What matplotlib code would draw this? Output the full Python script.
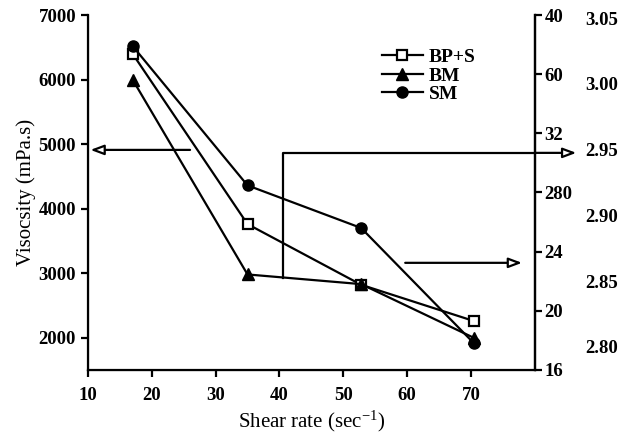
import matplotlib
matplotlib.use("Agg")
import matplotlib.pyplot as plt

plt.rcParams['font.family'] = ['Liberation Serif', 'DejaVu Serif']
plt.rcParams['mathtext.fontset'] = 'custom'
plt.rcParams['mathtext.rm'] = 'Liberation Serif'
plt.rcParams['mathtext.it'] = 'Liberation Serif:italic'

# data
shear = [17, 35, 52.8, 70.4]
bps = [6400, 3760, 2820, 2260]
bm = [6000, 2980, 2830, 2000]
sm = [6520, 4360, 3700, 1920]

x_ticks = [10, 20, 30, 40, 50, 60, 70]
left_ticks = [2000, 3000, 4000, 5000, 6000, 7000]
mid_ticks = [16, 20, 24, 28, 32, 36, 40]
mid_labels = ['16', '20', '24', '280', '32', '60', '40']
far_ticks = [2.80, 2.85, 2.90, 2.95, 3.00, 3.05]
far_labels = ['2.80', '2.85', '2.90', '2.95', '3.00', '3.05']

fs = 13.5
fig = plt.figure(figsize=(6.19, 4.42), dpi=100)
ax = fig.add_axes([0.142, 0.163, 0.722, 0.803])

ax.plot(shear, bps, 'k-', lw=1.6, marker='s', ms=7, mfc='white', mec='k', mew=1.6, label='BP+S')
ax.plot(shear, bm, 'k-', lw=1.6, marker='^', ms=8, label='BM')
ax.plot(shear, sm, 'k-', lw=1.6, marker='o', ms=8, label='SM')

ax.set_xlim(10, 80)
ax.set_ylim(1500, 7000)
ax.set_xticks(x_ticks)
ax.set_yticks(left_ticks)
ax.spines['top'].set_visible(False)
for s in ['left', 'bottom', 'right']:
    ax.spines[s].set_linewidth(1.6)
ax.tick_params(direction='out', width=1.6, length=5, labelsize=fs)
ax.tick_params(axis='x', pad=7)
ax.set_xlabel(r'Shear rate (sec$^{-1}$)', fontsize=15, labelpad=4)
ax.set_ylabel('Visocsity (mPa.s)', fontsize=15, labelpad=2)

ax2 = ax.twinx()
ax2.set_ylim(16, 40)
ax2.set_yticks(mid_ticks)
ax2.set_yticklabels(mid_labels)
ax2.spines['top'].set_visible(False)
ax2.spines['right'].set_linewidth(1.6)
ax2.tick_params(direction='out', width=1.6, length=5, labelsize=fs, pad=2)

ax3 = ax.twinx()
ax3.set_ylim(2.7825, 3.0523)
ax3.set_yticks(far_ticks)
ax3.set_yticklabels(far_labels)
ax3.spines['right'].set_position(('outward', 36))
for s in ax3.spines.values():
    s.set_visible(False)
ax3.tick_params(length=0, labelsize=fs, pad=0)

for a in (ax, ax2, ax3):
    for t in a.get_xticklabels() + a.get_yticklabels():
        t.set_fontweight('bold')

# arrows pointing at the axes
arrow = dict(arrowstyle='-|>,head_length=0.8,head_width=0.3', color='k', lw=1.6, fc='white', shrinkA=0, shrinkB=0)
ax.annotate('', xy=(10.4, 4910), xytext=(26, 4910), arrowprops=arrow, annotation_clip=False)
ax.plot([40.5, 40.5, 80], [2930, 4864, 4864], 'k-', lw=1.6, clip_on=False)
ax.annotate('', xy=(86.5, 4864), xytext=(80, 4864), arrowprops=arrow, annotation_clip=False)
ax.annotate('', xy=(78, 3160), xytext=(59.7, 3160), arrowprops=arrow, annotation_clip=False)

leg = ax.legend(loc='upper left', bbox_to_anchor=(0.658, 0.906), frameon=False,
                prop={'size': 14, 'weight': 'bold'}, handlelength=2.1, handletextpad=0.3,
                labelspacing=0.05, borderaxespad=0, borderpad=0)

fig.savefig('out.png', dpi=100)
